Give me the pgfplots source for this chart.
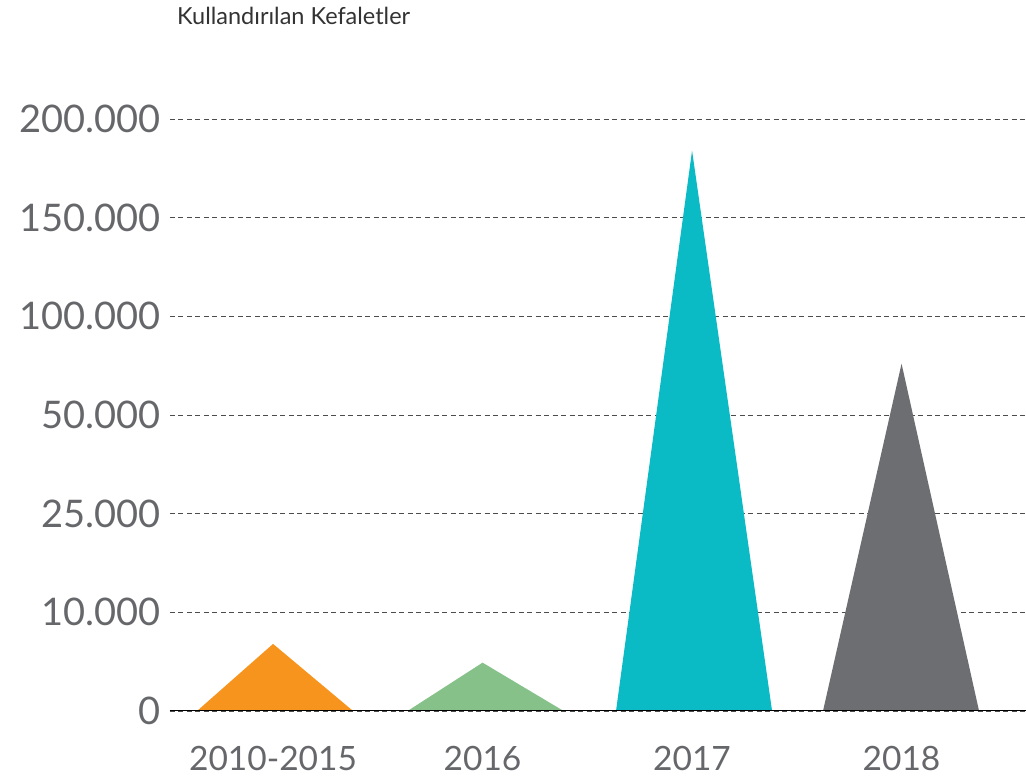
\documentclass[border=0pt]{standalone}
\usepackage{fontspec}
\setmainfont{Lato}
\usepackage{pgfplots}
\pgfplotsset{compat=1.18}
\definecolor{txt}{HTML}{66676A}
\definecolor{corange}{HTML}{F7941D}
\definecolor{cgreen}{HTML}{86C18A}
\definecolor{cteal}{HTML}{0ABAC5}
\definecolor{cgray}{HTML}{6D6E71}
\begin{document}
\begin{tikzpicture}[x=1pt,y=1pt]
\path[use as bounding box] (-170,-70) rectangle (856,711);
\node[anchor=base west, font=\fontsize{23.5}{26}\selectfont, text=black!80, inner sep=0pt] at (7,686) {Kullandırılan Kefaletler};
\begin{axis}[
  at={(0,0)}, anchor=south west,
  scale only axis, width=856pt, height=592pt,
  xmin=-0.492, xmax=3.594, ymin=0, ymax=6,
  axis x line=bottom, axis y line=left,
  x axis line style={black, line width=1pt, -},
  y axis line style={draw=none},
  major tick length=0pt,
  xtick={0,1,2,3}, xticklabels={2010-2015,2016,2017,2018},
  ytick={0,1,2,3,4,5,6},
  yticklabels={0,10.000,25.000,50.000,100.000,150.000,200.000},
  ymajorgrids, grid style={dash pattern=on 5pt off 3.5pt, black!70, line width=0.9pt},
  tick label style={text=txt},
  yticklabel style={font=\fontsize{38}{42}\selectfont, anchor=east, xshift=-6pt},
  xticklabel style={font=\fontsize{33.5}{38}\selectfont, anchor=north, yshift=-32pt},
  clip=false,
]
\addplot[draw=none, fill=corange] coordinates {(-0.363,0) (0,0.68) (0.382,0)} -- cycle;
\addplot[draw=none, fill=cgreen] coordinates {(0.642,0) (1,0.49) (1.387,0)} -- cycle;
\addplot[draw=none, fill=cteal] coordinates {(1.637,0) (2,5.68) (2.382,0)} -- cycle;
\addplot[draw=none, fill=cgray] coordinates {(2.625,0) (3,3.52) (3.370,0)} -- cycle;
\draw[black, line width=1pt] (axis cs:-0.492,0) -- (axis cs:3.594,0);
\end{axis}
\end{tikzpicture}
\end{document}
